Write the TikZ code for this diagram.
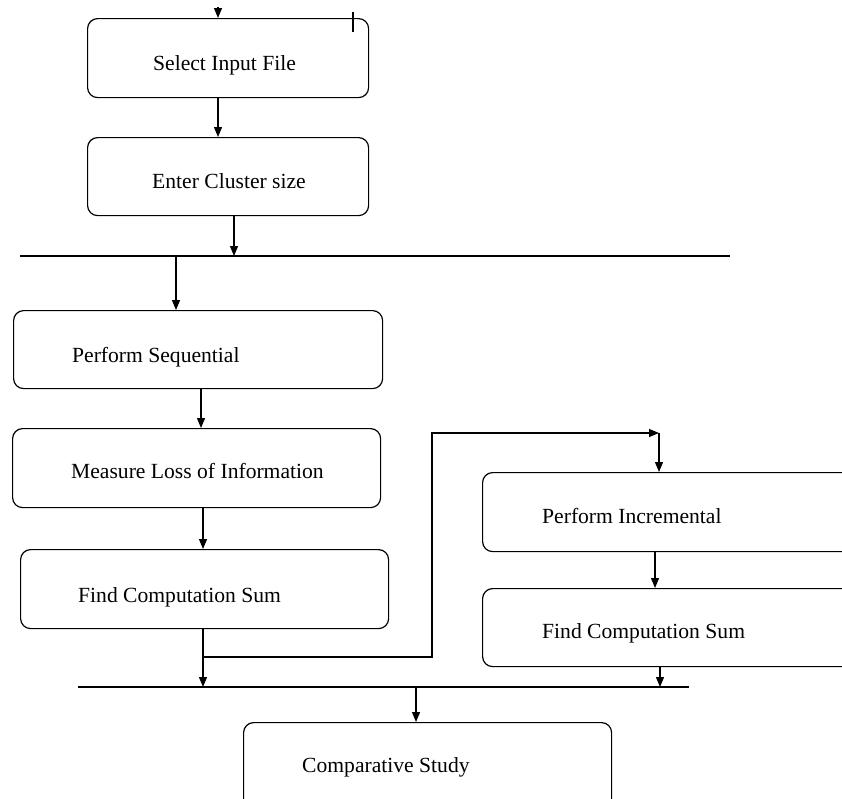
\documentclass[tikz,border=0pt]{standalone}
\usepackage{fontspec}
\setmainfont{Liberation Serif}
\usetikzlibrary{arrows.meta}
\begin{document}
\begin{tikzpicture}[x=1pt,y=-1pt,
  box/.style={draw, line width=1.2pt, rounded corners=10pt, anchor=north west, inner sep=0pt},
  lbl/.style={anchor=base west, inner sep=0pt, font=\fontsize{21.6}{26}\selectfont},
  arr/.style={line width=1.2pt, -{Triangle[length=10pt,width=8pt]}},
  bus/.style={line width=1.2pt}]
\useasboundingbox (0,0) rectangle (842,798);
\clip (0,0) rectangle (842,798);
% boxes
\node[box, minimum width=281pt, minimum height=79pt] (b1) at (87,18) {};
\node[box, minimum width=281pt, minimum height=78pt] (b2) at (87,137) {};
\node[box, minimum width=369pt, minimum height=78pt] (b3) at (13,310) {};
\node[box, minimum width=368pt, minimum height=79pt] (b4) at (12,428) {};
\node[box, minimum width=368pt, minimum height=79pt] (b5) at (20,549) {};
\node[box, minimum width=400pt, minimum height=79pt] (b6) at (482,472) {};
\node[box, minimum width=400pt, minimum height=78pt] (b7) at (482,588) {};
\node[box, minimum width=368pt, minimum height=100pt] (b8) at (243,722) {};
% texts
\node[lbl] (t1) at (153,70) {Select Input File};
\node[lbl] (t2) at (152,188) {Enter Cluster size};
\node[lbl] (t3) at (72,362) {Perform Sequential};
\node[lbl] (t4) at (71,478) {Measure Loss of Information};
\node[lbl] (t5) at (78,602) {Find Computation Sum};
\node[lbl] (t6) at (542,523) {Perform Incremental};
\node[lbl] (t7) at (542,638) {Find Computation Sum};
\node[lbl] (t8) at (302,772) {Comparative Study};
% bus lines
\coordinate (bus1L) at (20,256);
\coordinate (bus1R) at (730,256);
\coordinate (bus2L) at (78,687);
\coordinate (bus2R) at (689,687);
\draw[bus] (bus1L) -- (bus1R);
\draw[bus] (bus2L) -- (bus2R);
% x positions of connectors
\coordinate (in0) at (218,7);
\coordinate (xa) at (218,0);
\coordinate (xb) at (234,0);
\coordinate (xc) at (176,0);
\coordinate (xd) at (201,0);
\coordinate (xe) at (203,0);
\coordinate (xf) at (655,0);
\coordinate (xg) at (660,0);
\coordinate (xh) at (416,0);
% tick at top
\coordinate (tk1) at (353,12);
\coordinate (tk2) at (353,32);
\draw[bus] (tk1) -- (tk2);
% connectors
\draw[arr] (in0) -- (in0 |- b1.north);
\draw[arr] (b1.south -| xa) -- (b2.north -| xa);
\draw[arr] (b2.south -| xb) -- (bus1L -| xb);
\draw[arr] (bus1L -| xc) -- (b3.north -| xc);
\draw[arr] (b3.south -| xd) -- (b4.north -| xd);
\draw[arr] (b4.south -| xe) -- (b5.north -| xe);
\draw[arr] (b5.south -| xe) -- (bus2L -| xe);
\coordinate (br0) at (203,657);
\coordinate (br1) at (432,433);
\coordinate (br2) at (659,433);
\draw[arr] (br0) -| (br1) -- (br2);
\draw[arr] (br2) -- (br2 |- b6.north);
\draw[arr] (b6.south -| xf) -- (b7.north -| xf);
\draw[arr] (b7.south -| xg) -- (bus2L -| xg);
\draw[arr] (bus2L -| xh) -- (b8.north -| xh);
\end{tikzpicture}
\end{document}
